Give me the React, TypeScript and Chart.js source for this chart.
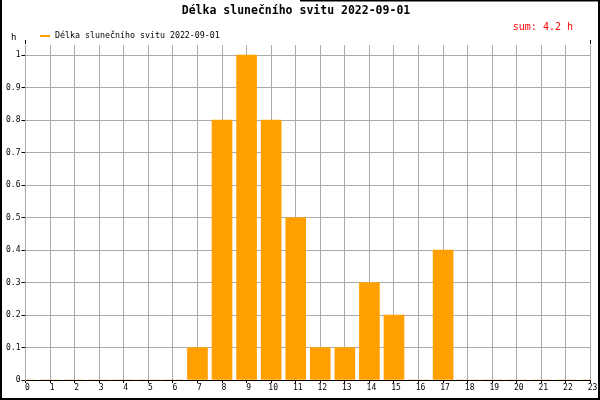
import React, { useEffect, useRef } from "react";
import { Chart, registerables } from "chart.js";

Chart.register(...registerables);

const hours: number[] = [0, 1, 2, 3, 4, 5, 6, 7, 8, 9, 10, 11, 12, 13, 14, 15, 16, 17, 18, 19, 20, 21, 22, 23];
const sunshine: number[] = [0, 0, 0, 0, 0, 0, 0, 0.1, 0.8, 1, 0.8, 0.5, 0.1, 0.1, 0.3, 0.2, 0, 0.4, 0, 0, 0, 0, 0, 0];
const titleText = "Délka slunečního svitu 2022-09-01";
const seriesLabel = "Délka slunečního svitu 2022-09-01";
const sumText = "sum: 4.2 h";
const yUnit = "h";

const MONO = "'DejaVu Sans Mono', 'Liberation Mono', monospace";
const ORANGE = "#FFA000";
const GRID = "#aaaaaa";

const decorPlugin = {
  id: "decor",
  afterDraw(chart: any) {
    const ctx = chart.ctx as CanvasRenderingContext2D;
    const a = chart.chartArea;
    ctx.save();
    // title
    ctx.fillStyle = "#000";
    ctx.font = `bold 11.5px ${MONO}`;
    ctx.textAlign = "center";
    ctx.textBaseline = "middle";
    ctx.fillText(titleText, 296, 11);
    // sum
    ctx.fillStyle = "#ff0000";
    ctx.font = `10px ${MONO}`;
    ctx.textAlign = "right";
    ctx.fillText(sumText, 573, 27);
    // legend
    ctx.strokeStyle = ORANGE;
    ctx.lineWidth = 2;
    ctx.beginPath();
    ctx.moveTo(40, 36);
    ctx.lineTo(50, 36);
    ctx.stroke();
    ctx.fillStyle = "#000";
    ctx.font = `8.3px ${MONO}`;
    ctx.textAlign = "left";
    ctx.fillText(seriesLabel, 55, 36);
    // unit
    ctx.font = `9px ${MONO}`;
    ctx.fillText(yUnit, 11, 38);
    // stubs at top of plot
    ctx.strokeStyle = "#000";
    ctx.lineWidth = 1;
    ctx.beginPath();
    ctx.moveTo(Math.round(a.left) - 0.5, a.top - 5);
    ctx.lineTo(Math.round(a.left) - 0.5, a.top - 1);
    ctx.moveTo(Math.round(a.right) - 0.5, a.top - 5);
    ctx.lineTo(Math.round(a.right) - 0.5, a.top - 1);
    ctx.stroke();
    // frame
    ctx.lineWidth = 2;
    ctx.beginPath();
    ctx.moveTo(1, 0);
    ctx.lineTo(1, 399);
    ctx.lineTo(599, 399);
    ctx.lineTo(599, 0);
    ctx.moveTo(300, 0.5);
    ctx.lineTo(600, 0.5);
    ctx.stroke();
    ctx.restore();
  },
};

export default function App() {
  const ref = useRef<HTMLCanvasElement | null>(null);

  useEffect(() => {
    document.body.style.margin = "0";
    const canvas = ref.current;
    if (!canvas) return;
    const chart = new Chart(canvas, {
      type: "bar",
      data: {
        datasets: [
          {
            label: seriesLabel,
            data: hours.map((h, i) => ({ x: h, y: sunshine[i] })),
            backgroundColor: ORANGE,
            borderWidth: 0,
            barThickness: 20,
          },
        ],
      },
      options: {
        animation: false,
        responsive: false,
        maintainAspectRatio: false,
        layout: { padding: { left: 0, top: 45, right: 9.5, bottom: 0 } },
        plugins: {
          legend: { display: false },
          title: { display: false },
          tooltip: { enabled: false },
        },
        scales: {
          x: {
            type: "linear",
            min: 0,
            max: 23,
            offset: false,
            grid: {
              offset: false,
              color: GRID,
              tickColor: "#000",
              tickLength: 3,
              lineWidth: 1,
            },
            border: { color: "#000", width: 1 },
            ticks: {
              stepSize: 1,
              color: "#000",
              padding: 0,
              labelOffset: 2,
              maxRotation: 0,
              autoSkip: false,
              font: { family: MONO, size: 8 },
              callback: (v: any) => String(v),
            },
            afterFit: (s: any) => {
              s.height = 20;
            },
          },
          y: {
            min: 0,
            max: 1.0308,
            grid: {
              color: GRID,
              tickColor: "#000",
              tickLength: 4,
              lineWidth: 1,
            },
            border: { color: GRID, width: 1 },
            ticks: {
              stepSize: 0.1,
              color: "#000",
              padding: 1,
              font: { family: MONO, size: 8 },
              callback: (v: any) => String(Number(Number(v).toFixed(1))),
            },
            afterBuildTicks: (s: any) => {
              s.ticks = s.ticks.filter((t: any) => t.value <= 1.0001);
            },
            afterFit: (s: any) => {
              s.width = 25.5;
            },
          },
        },
      },
      plugins: [decorPlugin],
    });
    return () => chart.destroy();
  }, []);

  return (
    <div style={{ width: 600, height: 400 }}>
      <canvas ref={ref} width={600} height={400} style={{ width: 600, height: 400, display: "block" }} />
    </div>
  );
}
